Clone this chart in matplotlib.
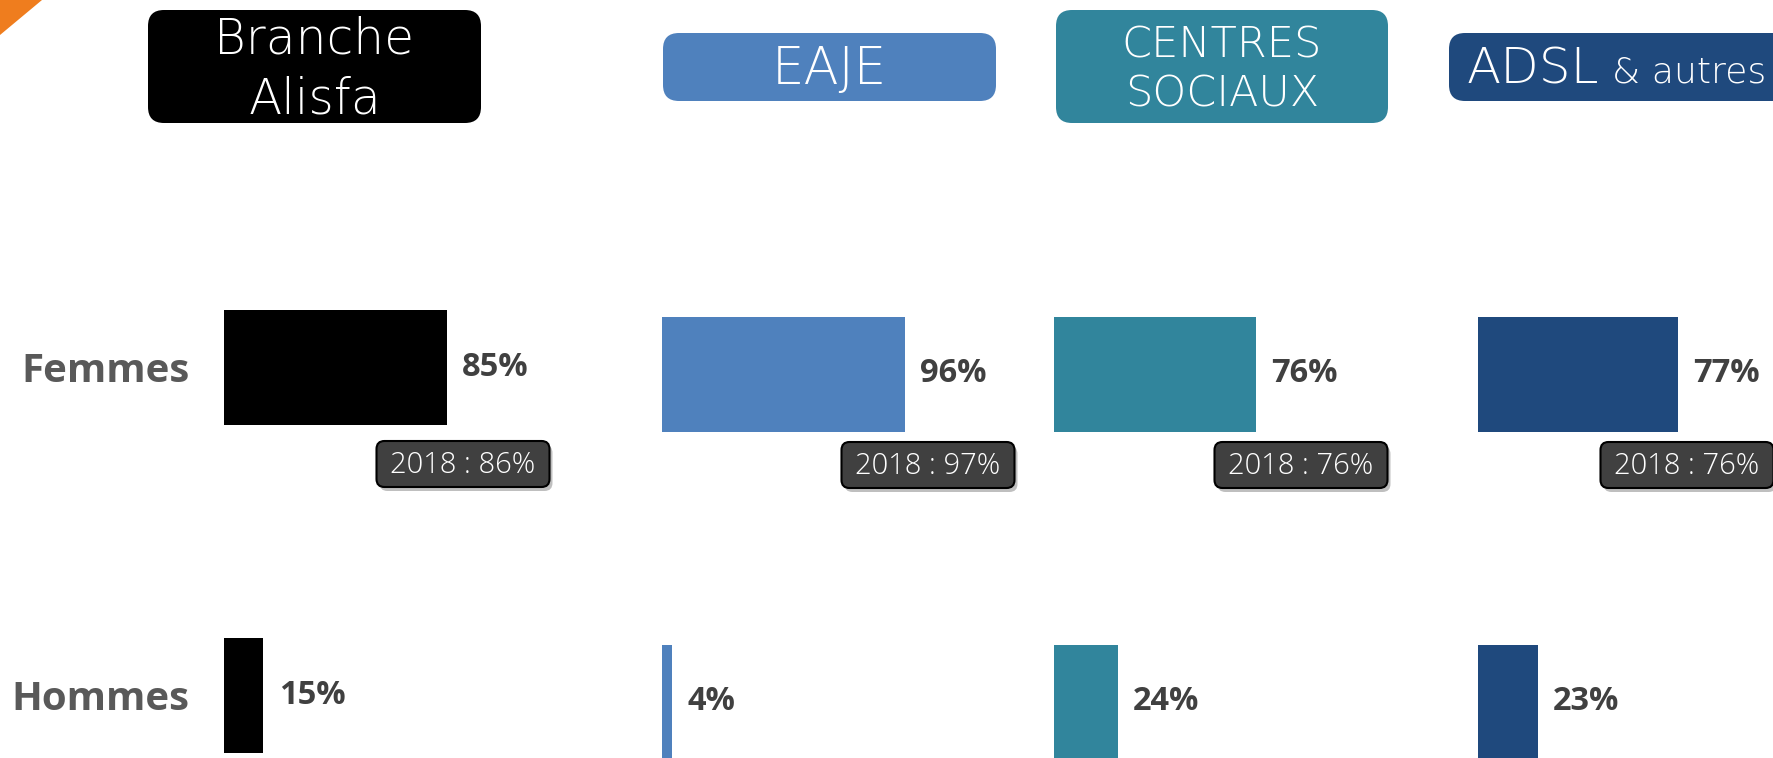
import matplotlib
matplotlib.use('Agg')
import matplotlib.pyplot as plt
from matplotlib import font_manager as fm
from matplotlib.patches import FancyBboxPatch, Polygon

plt.rcParams['font.family'] = ['Open Sans', 'DejaVu Sans']

# police fine pour les cartouches (si dispo)
light_fam, light_w = 'Open Sans', 'light'
for fam in ['DejaVu Sans', 'Lato', 'Open Sans', 'Roboto']:
    found = [f for f in fm.fontManager.ttflist
             if f.name == fam and isinstance(f.weight, int) and f.weight <= 300 and f.style == 'normal']
    if found:
        light_fam, light_w = fam, min(f.weight for f in found)
        break

# donnees
categories = ['Femmes', 'Hommes']
branches = ['Branche\nAlisfa', 'EAJE', 'CENTRES\nSOCIAUX', 'ADSL']
femmes = [85, 96, 76, 77]
hommes = [15, 4, 24, 23]
femmes_2018 = [86, 97, 76, 76]
colors = ['#000000', '#4F81BD', '#31859C', '#1F497D']

W, H = 1774, 758
fig = plt.figure(figsize=(W / 100, H / 100), dpi=100)

# calque en pixels pour les cartouches
ov = fig.add_axes([0, 0, 1, 1])
ov.set_xlim(0, W)
ov.set_ylim(H, 0)
ov.axis('off')

# coin orange
fig.add_artist(Polygon([[0, 1], [42 / W, 1], [0, 1 - 35 / H]], closed=True,
                       transform=fig.transFigure, color='#EF7D1E', lw=0))

# position des panneaux (pixels)
bar_left = [224, 662, 1054, 1478]
px_per_pct = [2.62, 2.53, 2.66, 2.60]
fem_center = [367, 374, 374, 374]
gap = 328

# en-tetes : x0, y0, x1, y1
hdr_boxes = [(148, 10, 481, 123), (663, 33, 996, 101), (1056, 10, 1388, 123), (1449, 33, 1800, 101)]
hdr_size = [35, 37, 31, 36]
hdr_ls = [1.32, 1.0, 1.22, 1.0]

for i in range(4):
    x0, y0, x1, y1 = hdr_boxes[i]
    ov.add_patch(FancyBboxPatch((x0, y0), x1 - x0, y1 - y0,
                                boxstyle='round,pad=0,rounding_size=16',
                                fc=colors[i], ec='none'))
    if i < 3:
        ov.text((x0 + x1) / 2, (y0 + y1) / 2 + 3, branches[i], color='white',
                fontsize=hdr_size[i], ha='center', va='center', linespacing=hdr_ls[i],
                family=light_fam, fontweight=light_w)
    else:
        t = ov.text(1467, 84, branches[i], color='white', fontsize=hdr_size[i],
                    ha='left', va='baseline', family=light_fam, fontweight=light_w)
        ov.annotate('& autres', xy=(1, 0), xycoords=t, xytext=(9, 8),
                    textcoords='offset points', color='white', fontsize=26,
                    ha='left', va='baseline', family=light_fam, fontweight=light_w)

# badges 2018
badge_cx = [463, 928, 1301, 1687]
badge_cy = [464, 465, 465, 465]
bw, bh = 173, 46
for i in range(4):
    cx, cy = badge_cx[i], badge_cy[i]
    ov.add_patch(FancyBboxPatch((cx - bw / 2 + 3, cy - bh / 2 + 4), bw, bh,
                                boxstyle='round,pad=0,rounding_size=8',
                                fc='#000000', ec='none', alpha=0.25))
    ov.add_patch(FancyBboxPatch((cx - bw / 2, cy - bh / 2), bw, bh,
                                boxstyle='round,pad=0,rounding_size=8',
                                fc='#404040', ec='#000000', lw=1.5))
    ov.text(cx, cy + 1, '2018 : {}%'.format(femmes_2018[i]), color='white',
            fontsize=21, ha='center', va='center', family='Open Sans', fontweight='light')

# barres
for i in range(4):
    ax_w = px_per_pct[i] * 100
    top = fem_center[i] - gap / 2
    ax = fig.add_axes([bar_left[i] / W, 1 - (top + 2 * gap) / H, ax_w / W, 2 * gap / H])
    ax.set_facecolor('none')
    bars = ax.barh([0, 1], [femmes[i], hommes[i]], height=115 / gap, color=colors[i])
    ax.bar_label(bars, labels=['{}%'.format(v) for v in [femmes[i], hommes[i]]],
                 padding=11, fontsize=23.5, fontweight='bold', color='#404040')
    ax.set_xlim(0, 100)
    ax.set_ylim(1.5, -0.5)
    for s in ax.spines.values():
        s.set_visible(False)
    ax.set_xticks([])
    if i == 0:
        ax.set_yticks([0, 1], categories)
        ax.tick_params(axis='y', length=0, pad=25, labelsize=29, labelcolor='#595959')
        for lab in ax.get_yticklabels():
            lab.set_fontweight('bold')
    else:
        ax.set_yticks([])

fig.savefig('out.png', dpi=100)
